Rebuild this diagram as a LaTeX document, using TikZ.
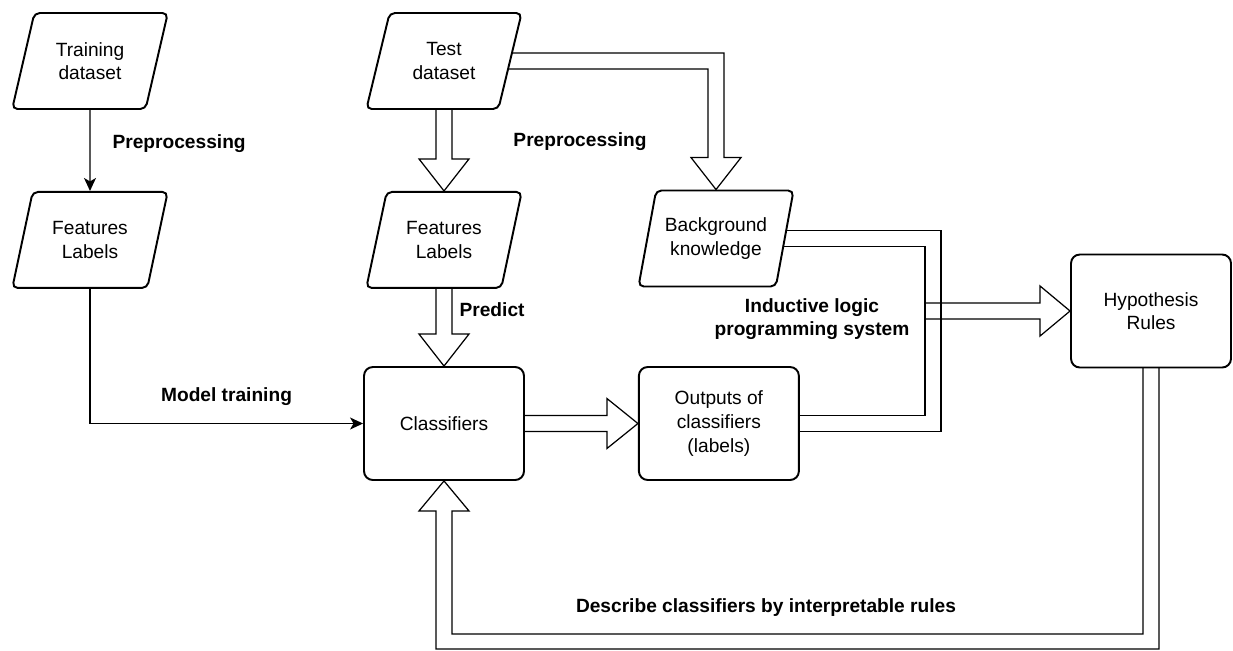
\documentclass[tikz,border=0pt]{standalone}
\usepackage{fontspec}
\setmainfont{Liberation Sans}
\usetikzlibrary{arrows.meta, positioning, shapes.geometric, calc, backgrounds}

\begin{document}
\begin{tikzpicture}[x=0.02cm, y=-0.02cm, every node/.style={font=\fontsize{10.9}{13.4}\selectfont, align=center},
    dataio/.style={trapezium, trapezium left angle=70, trapezium right angle=110, trapezium stretches=true, draw, line width=1.1pt, rounded corners=3pt, fill=white, minimum width=3.12cm, minimum height=1.92cm, inner sep=0pt},
    procbox/.style={draw, line width=1.1pt, rounded corners=5pt, fill=white, minimum width=3.2cm, minimum height=2.26cm},
    flex/.style={line width=0.7pt},
    lbl/.style={font=\fontsize{10.9}{13.4}\selectfont\bfseries, inner sep=0pt}]
    \useasboundingbox (0,0) rectangle (1233,650);

    % data
    \node[dataio] (train) at (90,61) {Training\\dataset};
    \node[dataio, below=1.62cm of train] (feat1) {Features\\Labels};
    \node[dataio] (test) at (444,61) {Test\\dataset};
    \node[dataio, below=1.62cm of test] (feat2) {Features\\Labels};
    \node[dataio] (bk) at (716,238.5) {Background\\knowledge};

    % processes
    \node[procbox] (cls) at (444,423.5) {Classifiers};
    \node[procbox, right=2.26cm of cls] (out) {Outputs of\\classifiers\\(labels)};
    \node[procbox] (hyp) at (1151,311) {Hypothesis\\Rules};
    \coordinate (mrg) at ($(hyp.west)+(-137,0)$);

    % thin arrows
    \draw[-{Stealth[length=2.6mm, width=2.4mm, inset=0.7mm]}, line width=0.7pt] (train) -- node[lbl, pos=0.41, right=0.44cm] {Preprocessing} (feat1);
    \draw[-{Stealth[length=2.6mm, width=2.4mm, inset=0.7mm]}, line width=0.7pt] (feat1) |- node[lbl, pos=0.75, above=0.34cm] {Model training} (cls);

    % hollow arrows
    \begin{scope}[on background layer]
        \draw[flex] ($(test.center)+(-8,0)$) -- ($(feat2.north)+(-8,-32)$) -- ++(-17,0) -- (feat2.north) -- ++(25,-32) -- ++(-17,0) -- ($(test.center)+(8,0)$);
        \draw[flex] ($(test.center)+(0,-8)$) -| ($(bk.north)+(8,-32)$) -- ++(17,0) -- (bk.north) -- ++(-25,-32) -- ++(17,0) |- ($(test.center)+(0,8)$);
        \draw[flex] ($(feat2.center)+(-8,0)$) -- ($(cls.north)+(-8,-32)$) -- ++(-17,0) -- (cls.north) -- ++(25,-32) -- ++(-17,0) -- node[lbl, pos=0.26, right=0.14cm] {Predict} ($(feat2.center)+(8,0)$);
        \draw[flex] ($(cls.center)+(0,-8)$) -- ($(out.west)+(-31,-8)$) -- ++(0,-17) -- (out.west) -- ++(-31,25) -- ++(0,-17) -- ($(cls.center)+(0,8)$);
        \draw[flex] ($(bk.center)+(0,-8)$) -| ($(mrg)+(8,0)$) |- ($(out.center)+(0,8)$);
        \draw[flex] ($(bk.center)+(0,8)$) -| ($(mrg)+(-8,0)$) |- ($(out.center)+(0,-8)$);
        \draw[flex] ($(mrg)+(-8,-8)$) -- ($(hyp.west)+(-30,-8)$) -- ++(0,-17) -- (hyp.west) -- ++(-30,25) -- ++(0,-17) -- ($(mrg)+(-8,8)$);
        \draw[flex] ($(hyp.center)+(-8,0)$) |- ($(cls.south)+(8,153)$) -- ($(cls.south)+(8,30)$) -- ++(17,0) -- (cls.south) -- ++(-25,30) -- ++(17,0) |- ($(hyp.center)+(8,338)$) -- ($(hyp.center)+(8,0)$);
    \end{scope}

    % labels
    \node[lbl] (prep) at (580,142) {Preprocessing};
    \node[lbl] (ilp) at (812,319) {Inductive logic\\programming system};
    \node[lbl] (desc) at (766,608) {Describe classifiers by interpretable rules};
\end{tikzpicture}
\end{document}
